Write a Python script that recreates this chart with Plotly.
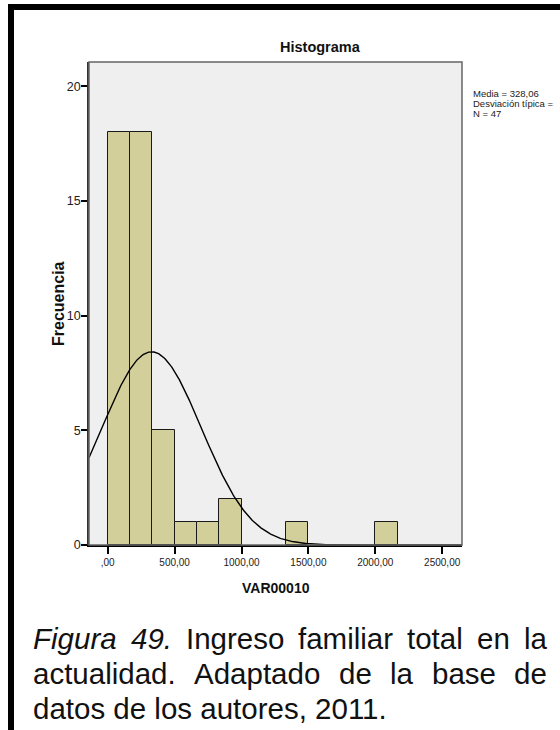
import numpy as np
import plotly.graph_objects as go

# ---------------- data ----------------
bin_width = 500.0 / 3.0
bin_counts = [18, 18, 5, 1, 1, 2, 0, 0, 1, 0, 0, 0, 1]   # bins starting at 0
mean_value = 328.06
sd_estimate = 371.0          # read from the fitted-curve peak (value truncated in label)
n_obs = 47
x_tickvals = [0, 500, 1000, 1500, 2000, 2500]
x_ticktext = [",00", "500,00", "1000,00", "1500,00", "2000,00", "2500,00"]
y_tickvals = [0, 5, 10, 15, 20]
stats_lines = ["Media = 328,06", "Desviación típica =", "N = 47"]
caption_line1 = ["Figura", "49.", "Ingreso", "familiar", "total", "en", "la"]
caption_line2 = ["actualidad.", "Adaptado", "de", "la", "base", "de"]
caption_line3 = "datos de los autores, 2011."

# ---------------- geometry helpers ----------------
L, R, T, B = 89, 462, 62, 545
W, H = 560, 730
def px(x):
    return (x - L) / (R - L)
def py(y):
    return (B - y) / (B - T)

SANS = "Liberation Sans, Arial, sans-serif"

X_RANGE = [-140, 2648]
Y_RANGE = [0, 21.06]

# bars
centers = [bin_width * (i + 0.5) for i, c in enumerate(bin_counts) if c > 0]
heights = [c for c in bin_counts if c > 0]

fig = go.Figure()
fig.add_trace(go.Bar(
    x=centers, y=heights, width=bin_width,
    marker=dict(color="#d3cf9a", line=dict(color="#1a1a1a", width=1)),
    showlegend=False, hoverinfo="skip"))

# fitted normal curve
xc = np.linspace(X_RANGE[0], X_RANGE[1], 500)
yc = n_obs * bin_width / (sd_estimate * np.sqrt(2 * np.pi)) * np.exp(-0.5 * ((xc - mean_value) / sd_estimate) ** 2)
fig.add_trace(go.Scatter(x=xc, y=yc, mode="lines",
                         line=dict(color="black", width=1.4),
                         showlegend=False, hoverinfo="skip"))

fig.update_layout(
    width=W, height=H,
    margin=dict(l=L, r=W - R, t=T, b=H - B),
    paper_bgcolor="white", plot_bgcolor="#efefef",
    bargap=0,
    xaxis=dict(range=X_RANGE, tickvals=x_tickvals, ticktext=x_ticktext,
               ticks="outside", ticklen=7, tickwidth=1.5, tickcolor="black",
               showgrid=False, zeroline=False, showline=True,
               linecolor="black", linewidth=2,
               tickfont=dict(family=SANS, size=10, color="#222")),
    yaxis=dict(range=Y_RANGE, tickvals=y_tickvals,
               ticks="outside", ticklen=6, tickwidth=1.5, tickcolor="black",
               showgrid=False, zeroline=False, showline=True,
               linecolor="#333", linewidth=1.5, ticklabelstandoff=-2,
               tickfont=dict(family=SANS, size=12.5, color="#222")),
)

shapes = []
# plot frame (top / right)
shapes.append(dict(type="rect", xref="paper", yref="paper", x0=0, x1=1, y0=0, y1=1,
                   line=dict(color="#666", width=1.5), layer="above"))
# page border (black, top and left)
shapes.append(dict(type="rect", xref="paper", yref="paper",
                   x0=px(8), x1=px(W + 5), y0=py(10), y1=py(4),
                   fillcolor="black", line=dict(width=0)))
shapes.append(dict(type="rect", xref="paper", yref="paper",
                   x0=px(8), x1=px(14), y0=py(H + 5), y1=py(4),
                   fillcolor="black", line=dict(width=0)))
fig.update_layout(shapes=shapes)

ann = []
ann.append(dict(text="<b>Histograma</b>", x=px(320), y=py(47), xref="paper", yref="paper",
                showarrow=False, xanchor="center", yanchor="middle",
                font=dict(family=SANS, size=14.5, color="#111")))
ann.append(dict(text="<b>VAR00010</b>", x=px(276), y=py(588), xref="paper", yref="paper",
                showarrow=False, xanchor="center", yanchor="middle",
                font=dict(family=SANS, size=14, color="#111")))
ann.append(dict(text="<b>Frecuencia</b>", x=px(58), y=py(304), xref="paper", yref="paper",
                showarrow=False, xanchor="center", yanchor="middle", textangle=-90,
                font=dict(family=SANS, size=16, color="#111")))
for i, line in enumerate(stats_lines):
    ann.append(dict(text=line, x=px(471), y=py(94 + 9.8 * i), xref="paper", yref="paper",
                    showarrow=False, xanchor="left", yanchor="middle",
                    font=dict(family=SANS, size=9.5, color="#222")))

# caption (justified lines placed word by word using Arial metrics)
AW = {" ": 278, "a": 556, "b": 556, "c": 500, "d": 556, "e": 556, "f": 278, "g": 556,
      "i": 222, "l": 222, "m": 833, "n": 556, "o": 556, "p": 556, "r": 333, "s": 500,
      "t": 278, "u": 556, "A": 667, "F": 611, "I": 278, ".": 278, ",": 278}
def tw(s, size):
    return sum(AW.get(ch, 556) for ch in s) * size / 1000.0

CAP = 29.5
cap_left, cap_right = 31, 545
def justify(words, yc, italic_n=0):
    widths = [tw(w, CAP) for w in words]
    gap = (cap_right - cap_left - sum(widths)) / (len(words) - 1)
    x = cap_left
    for k, (w, wd) in enumerate(zip(words, widths)):
        txt = f"<i>{w}</i>" if k < italic_n else w
        ann.append(dict(text=txt, x=px(x), y=py(yc), xref="paper", yref="paper",
                        showarrow=False, xanchor="left", yanchor="middle",
                        font=dict(family=SANS, size=CAP, color="#111")))
        x += wd + gap

justify(caption_line1, 638, italic_n=2)
justify(caption_line2, 673)
ann.append(dict(text=caption_line3, x=px(cap_left), y=py(708), xref="paper", yref="paper",
                showarrow=False, xanchor="left", yanchor="middle",
                font=dict(family=SANS, size=CAP, color="#111")))
fig.update_layout(annotations=ann)

fig.write_html("out.html")
